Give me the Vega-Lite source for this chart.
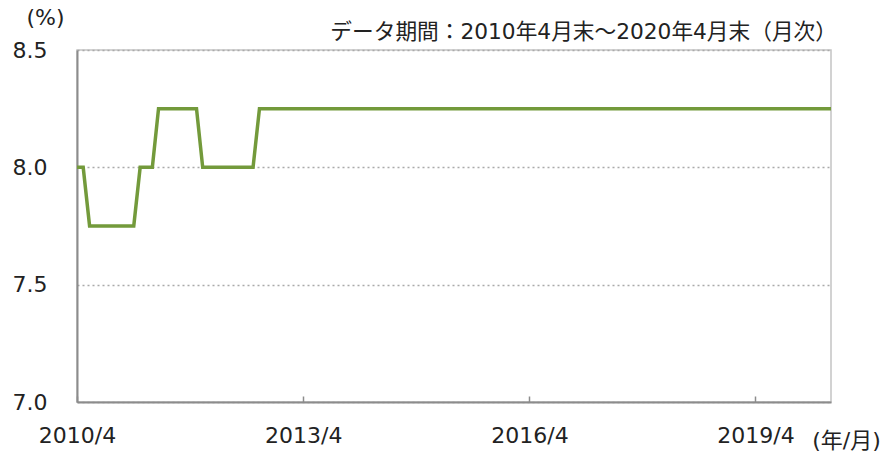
{
  "$schema": "https://vega.github.io/schema/vega-lite/v6.json",
  "width": 754,
  "height": 352,
  "autosize": "none",
  "padding": {"left": 77, "top": 50, "right": 54, "bottom": 52},
  "config": {
    "view": {"stroke": "#c4c4c4", "strokeWidth": 1.5},
    "font": "DejaVu Sans, Noto Sans CJK JP"
  },
  "title": {
    "text": "データ期間：2010年4月末～2020年4月末（月次）",
    "anchor": "end",
    "frame": "group",
    "fontSize": 21.7,
    "fontWeight": "normal",
    "color": "#222222",
    "font": "DejaVu Sans, Noto Sans CJK JP",
    "dx": 6,
    "offset": -38
  },
  "data": {
    "values": [
      {"date": "2010-04", "rate": 8}, {"date": "2010-05", "rate": 8}, {"date": "2010-06", "rate": 7.75},
      {"date": "2010-07", "rate": 7.75}, {"date": "2010-08", "rate": 7.75}, {"date": "2010-09", "rate": 7.75},
      {"date": "2010-10", "rate": 7.75}, {"date": "2010-11", "rate": 7.75}, {"date": "2010-12", "rate": 7.75},
      {"date": "2011-01", "rate": 7.75}, {"date": "2011-02", "rate": 8}, {"date": "2011-03", "rate": 8},
      {"date": "2011-04", "rate": 8}, {"date": "2011-05", "rate": 8.25}, {"date": "2011-06", "rate": 8.25},
      {"date": "2011-07", "rate": 8.25}, {"date": "2011-08", "rate": 8.25}, {"date": "2011-09", "rate": 8.25},
      {"date": "2011-10", "rate": 8.25}, {"date": "2011-11", "rate": 8.25}, {"date": "2011-12", "rate": 8},
      {"date": "2012-01", "rate": 8}, {"date": "2012-02", "rate": 8}, {"date": "2012-03", "rate": 8},
      {"date": "2012-04", "rate": 8}, {"date": "2012-05", "rate": 8}, {"date": "2012-06", "rate": 8},
      {"date": "2012-07", "rate": 8}, {"date": "2012-08", "rate": 8}, {"date": "2012-09", "rate": 8.25},
      {"date": "2012-10", "rate": 8.25}, {"date": "2012-11", "rate": 8.25}, {"date": "2012-12", "rate": 8.25},
      {"date": "2013-01", "rate": 8.25}, {"date": "2013-02", "rate": 8.25}, {"date": "2013-03", "rate": 8.25},
      {"date": "2013-04", "rate": 8.25}, {"date": "2013-05", "rate": 8.25}, {"date": "2013-06", "rate": 8.25},
      {"date": "2013-07", "rate": 8.25}, {"date": "2013-08", "rate": 8.25}, {"date": "2013-09", "rate": 8.25},
      {"date": "2013-10", "rate": 8.25}, {"date": "2013-11", "rate": 8.25}, {"date": "2013-12", "rate": 8.25},
      {"date": "2014-01", "rate": 8.25}, {"date": "2014-02", "rate": 8.25}, {"date": "2014-03", "rate": 8.25},
      {"date": "2014-04", "rate": 8.25}, {"date": "2014-05", "rate": 8.25}, {"date": "2014-06", "rate": 8.25},
      {"date": "2014-07", "rate": 8.25}, {"date": "2014-08", "rate": 8.25}, {"date": "2014-09", "rate": 8.25},
      {"date": "2014-10", "rate": 8.25}, {"date": "2014-11", "rate": 8.25}, {"date": "2014-12", "rate": 8.25},
      {"date": "2015-01", "rate": 8.25}, {"date": "2015-02", "rate": 8.25}, {"date": "2015-03", "rate": 8.25},
      {"date": "2015-04", "rate": 8.25}, {"date": "2015-05", "rate": 8.25}, {"date": "2015-06", "rate": 8.25},
      {"date": "2015-07", "rate": 8.25}, {"date": "2015-08", "rate": 8.25}, {"date": "2015-09", "rate": 8.25},
      {"date": "2015-10", "rate": 8.25}, {"date": "2015-11", "rate": 8.25}, {"date": "2015-12", "rate": 8.25},
      {"date": "2016-01", "rate": 8.25}, {"date": "2016-02", "rate": 8.25}, {"date": "2016-03", "rate": 8.25},
      {"date": "2016-04", "rate": 8.25}, {"date": "2016-05", "rate": 8.25}, {"date": "2016-06", "rate": 8.25},
      {"date": "2016-07", "rate": 8.25}, {"date": "2016-08", "rate": 8.25}, {"date": "2016-09", "rate": 8.25},
      {"date": "2016-10", "rate": 8.25}, {"date": "2016-11", "rate": 8.25}, {"date": "2016-12", "rate": 8.25},
      {"date": "2017-01", "rate": 8.25}, {"date": "2017-02", "rate": 8.25}, {"date": "2017-03", "rate": 8.25},
      {"date": "2017-04", "rate": 8.25}, {"date": "2017-05", "rate": 8.25}, {"date": "2017-06", "rate": 8.25},
      {"date": "2017-07", "rate": 8.25}, {"date": "2017-08", "rate": 8.25}, {"date": "2017-09", "rate": 8.25},
      {"date": "2017-10", "rate": 8.25}, {"date": "2017-11", "rate": 8.25}, {"date": "2017-12", "rate": 8.25},
      {"date": "2018-01", "rate": 8.25}, {"date": "2018-02", "rate": 8.25}, {"date": "2018-03", "rate": 8.25},
      {"date": "2018-04", "rate": 8.25}, {"date": "2018-05", "rate": 8.25}, {"date": "2018-06", "rate": 8.25},
      {"date": "2018-07", "rate": 8.25}, {"date": "2018-08", "rate": 8.25}, {"date": "2018-09", "rate": 8.25},
      {"date": "2018-10", "rate": 8.25}, {"date": "2018-11", "rate": 8.25}, {"date": "2018-12", "rate": 8.25},
      {"date": "2019-01", "rate": 8.25}, {"date": "2019-02", "rate": 8.25}, {"date": "2019-03", "rate": 8.25},
      {"date": "2019-04", "rate": 8.25}, {"date": "2019-05", "rate": 8.25}, {"date": "2019-06", "rate": 8.25},
      {"date": "2019-07", "rate": 8.25}, {"date": "2019-08", "rate": 8.25}, {"date": "2019-09", "rate": 8.25},
      {"date": "2019-10", "rate": 8.25}, {"date": "2019-11", "rate": 8.25}, {"date": "2019-12", "rate": 8.25},
      {"date": "2020-01", "rate": 8.25}, {"date": "2020-02", "rate": 8.25}, {"date": "2020-03", "rate": 8.25},
      {"date": "2020-04", "rate": 8.25}
    ]
  },
  "mark": {"type": "line", "color": "#739a3b", "strokeWidth": 3.5, "strokeJoin": "miter", "clip": true},
  "encoding": {
    "x": {
      "field": "date",
      "type": "temporal",
      "scale": {
        "type": "utc",
        "domain": [
          {"year": 2010, "month": 4, "date": 1, "utc": true},
          {"year": 2020, "month": 4, "date": 1, "utc": true}
        ]
      },
      "axis": {
        "values": [
          {"year": 2010, "month": 4, "date": 1, "utc": true},
          {"year": 2013, "month": 4, "date": 1, "utc": true},
          {"year": 2016, "month": 4, "date": 1, "utc": true},
          {"year": 2019, "month": 4, "date": 1, "utc": true}
        ],
        "format": "%Y/%-m",
        "grid": false,
        "domainColor": "#8c8c8c",
        "domainWidth": 2,
        "ticks": true,
        "tickSize": -6,
        "tickColor": "#8c8c8c",
        "tickWidth": 1.5,
        "labelFontSize": 22,
        "labelColor": "#222222",
        "labelPadding": 29,
        "labelFlush": false,
        "title": "(年/月)",
        "titleFontSize": 22,
        "titleFontWeight": "normal",
        "titleColor": "#222222",
        "titleAngle": 0,
        "titleAlign": "center",
        "titleBaseline": "middle",
        "titleX": 769,
        "titleY": 38
      }
    },
    "y": {
      "field": "rate",
      "type": "quantitative",
      "scale": {"domain": [7, 8.5], "nice": false, "zero": false},
      "axis": {
        "values": [7, 7.5, 8, 8.5],
        "format": ".1f",
        "grid": true,
        "gridColor": "#aaaaaa",
        "gridDash": [2, 3],
        "gridWidth": 1.5,
        "domainColor": "#8c8c8c",
        "domainWidth": 2,
        "ticks": false,
        "labelFontSize": 22,
        "labelColor": "#222222",
        "labelPadding": 30,
        "title": "(%)",
        "titleFontSize": 22,
        "titleFontWeight": "normal",
        "titleColor": "#222222",
        "titleAngle": 0,
        "titleAlign": "center",
        "titleBaseline": "middle",
        "titleX": -32,
        "titleY": -33
      }
    }
  }
}
